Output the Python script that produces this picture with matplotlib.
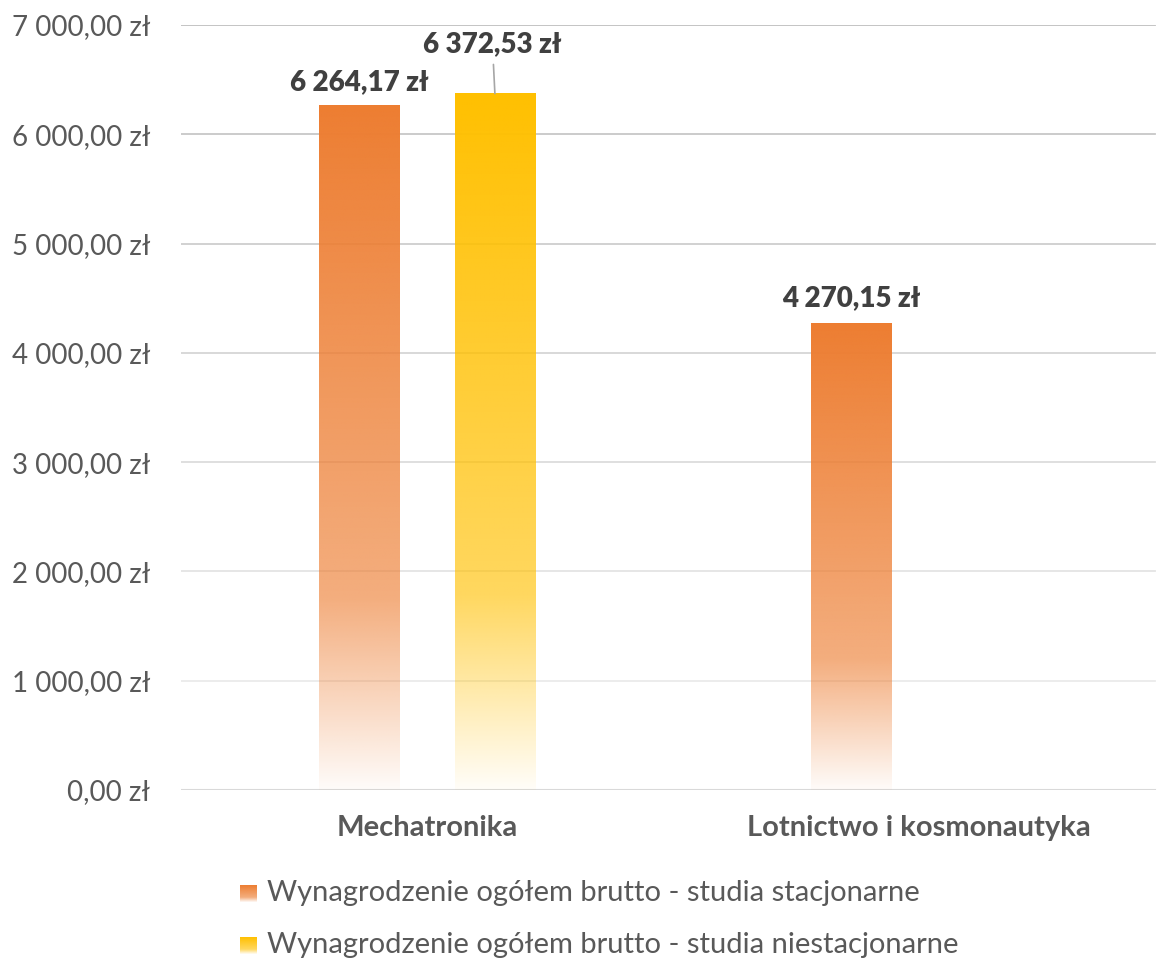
import numpy as np
import matplotlib.pyplot as plt
from matplotlib.colors import to_rgb

plt.rcParams["font.family"] = ["Lato", "DejaVu Sans"]

categories = ["Mechatronika", "Lotnictwo i kosmonautyka"]
series_names = [
    "Wynagrodzenie ogółem brutto - studia stacjonarne",
    "Wynagrodzenie ogółem brutto - studia niestacjonarne",
]
stacjonarne = [6264.17, 4270.15]
niestacjonarne = [6372.53, None]
colors = ["#ED7D31", "#FFC000"]
y_ticks = [0, 1000, 2000, 3000, 4000, 5000, 6000, 7000]


def fmt_pln(v):
    s = f"{v:,.2f}".replace(",", " ").replace(".", ",")
    return s + " zł"


def gradient_rgba(color, n=256):
    # top of bar solid, fading to almost white at the base
    t = np.linspace(0, 1, n)  # 0 = top, 1 = bottom
    alpha = np.where(t < 0.72, 1 - (1 - 0.63) * t / 0.72,
                     0.63 - (0.63 - 0.03) * (t - 0.72) / 0.28)
    rgb = np.array(to_rgb(color))
    img = np.ones((n, 1, 4))
    img[:, 0, :3] = rgb
    img[:, 0, 3] = alpha
    return img


fig = plt.figure(figsize=(11.65, 9.63), dpi=100)
ax = fig.add_axes([181 / 1165, 1 - 790 / 963, 984 / 1165, 765 / 963])

ax.set_xlim(-0.5, 1.5)
ax.set_ylim(0, 7000)

# gridlines fade from darker at top to lighter near the base
for v in y_ticks[1:]:
    f = v / 7000
    g = 0.95 - 0.2 * f
    ax.axhline(v, xmax=0.99, color=(g, g, g), lw=1.3, zorder=0)
ax.axhline(0, xmax=0.99, color="#D9D9D9", lw=1.5, zorder=1)

width = 0.163
offset = 0.138
x = np.arange(len(categories))

for si, (vals, col) in enumerate(zip([stacjonarne, niestacjonarne], colors)):
    dx = -offset if si == 0 else offset
    for xi, v in zip(x, vals):
        if v is None:
            continue
        left = xi + dx - width / 2
        ax.imshow(gradient_rgba(col), extent=(left, left + width, 0, v),
                  aspect="auto", zorder=2, interpolation="bilinear")

# value labels
lab_kw = dict(ha="center", va="bottom", fontsize=20, fontweight="heavy", color="#404040")
ax.text(x[0] - offset, stacjonarne[0] + 90, fmt_pln(stacjonarne[0]), **lab_kw)
ax.text(x[1] - offset, stacjonarne[1] + 110, fmt_pln(stacjonarne[1]), **lab_kw)
ax.annotate(fmt_pln(niestacjonarne[0]), xy=(x[0] + offset, niestacjonarne[0]),
            xytext=(x[0] + offset - 0.005, niestacjonarne[0] + 330),
            arrowprops=dict(arrowstyle="-", color="#A6A6A6", lw=1.2,
                            shrinkA=3, shrinkB=0),
            **lab_kw)

ax.set_xticks(x)
ax.set_xticklabels(categories, fontsize=21, fontweight="bold", color="#595959")
ax.set_yticks(y_ticks)
ax.set_yticklabels([fmt_pln(v) for v in y_ticks], fontsize=20, color="#595959")
ax.tick_params(axis="both", length=0)
ax.tick_params(axis="y", pad=22)
ax.tick_params(axis="x", pad=18)
for sp in ax.spines.values():
    sp.set_visible(False)

# legend below the chart
for i, (name, col) in enumerate(zip(series_names, colors)):
    yc = 893 + i * 52
    lax = fig.add_axes([240 / 1165, 1 - (yc + 9) / 963, 17 / 1165, 17 / 963])
    lax.imshow(gradient_rgba(col), aspect="auto", extent=(0, 1, 0, 1),
               interpolation="bilinear")
    lax.axis("off")
    fig.text(267 / 1165, 1 - yc / 963, name, fontsize=21, color="#595959",
             va="center", ha="left")

fig.savefig("out.png", dpi=100)
